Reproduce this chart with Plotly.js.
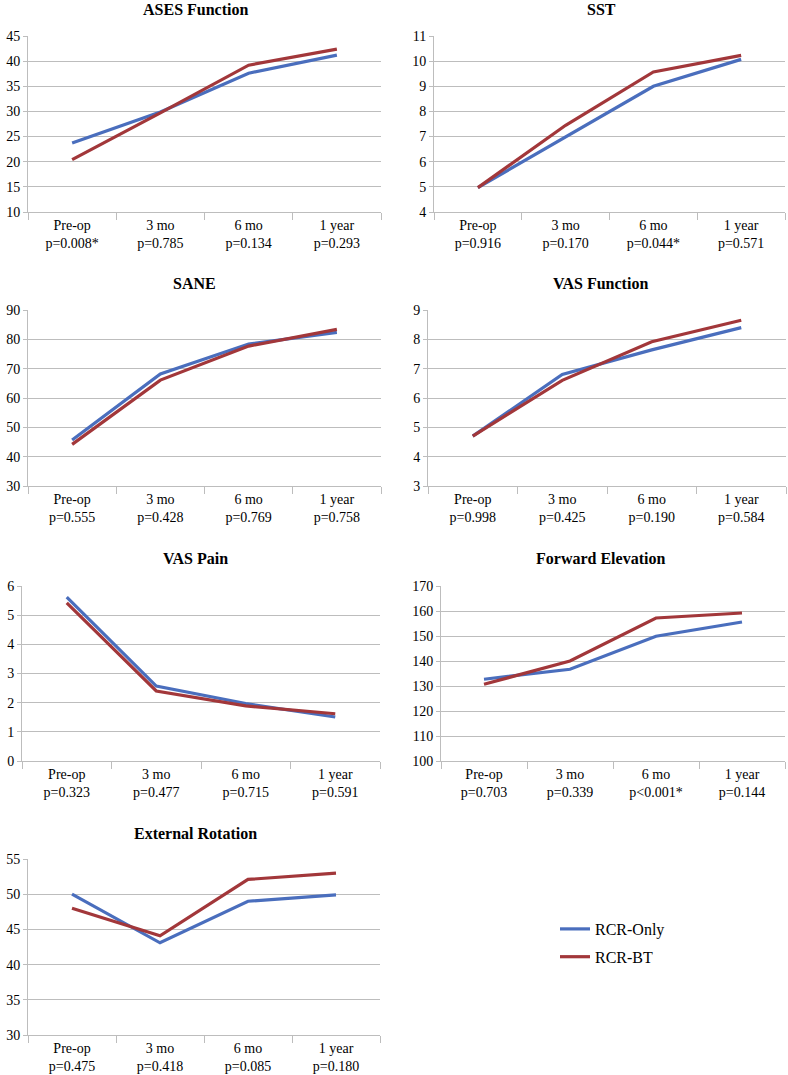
<!DOCTYPE html>
<html>
<head>
<meta charset="utf-8">
<script src="https://cdn.plot.ly/plotly-3.0.1.min.js"></script>
<style>
  body { margin: 0; background: #fff; }
  #chart { width: 788px; height: 1075px; }
</style>
</head>
<body>
<div id="chart"></div>
<script>
// categories and p values under each time point
var timePoints = ['Pre-op', '3 mo', '6 mo', '1 year'];

var titles = ['ASES Function', 'SST', 'SANE', 'VAS Function', 'VAS Pain', 'Forward Elevation', 'External Rotation'];

var pAses = ['p=0.008*', 'p=0.785', 'p=0.134', 'p=0.293'];
var pSst = ['p=0.916', 'p=0.170', 'p=0.044*', 'p=0.571'];
var pSane = ['p=0.555', 'p=0.428', 'p=0.769', 'p=0.758'];
var pVasFunc = ['p=0.998', 'p=0.425', 'p=0.190', 'p=0.584'];
var pVasPain = ['p=0.323', 'p=0.477', 'p=0.715', 'p=0.591'];
var pFe = ['p=0.703', 'p=0.339', 'p<0.001*', 'p=0.144'];
var pEr = ['p=0.475', 'p=0.418', 'p=0.085', 'p=0.180'];

// RCR-Only
var asesOnly = [23.7, 29.9, 37.6, 41.2];
var sstOnly = [4.97, 6.98, 9.0, 10.07];
var saneOnly = [45.7, 68.2, 78.4, 82.4];
var vasFuncOnly = [4.7, 6.8, 7.64, 8.4];
var vasPainOnly = [5.62, 2.57, 1.97, 1.51];
var feOnly = [132.7, 136.7, 149.9, 155.6];
var erOnly = [50.0, 43.1, 49.0, 49.9];

// RCR-BT
var asesBT = [20.4, 29.7, 39.2, 42.4];
var sstBT = [4.97, 7.45, 9.57, 10.23];
var saneBT = [44.2, 66.1, 77.7, 83.4];
var vasFuncBT = [4.7, 6.6, 7.92, 8.65];
var vasPainBT = [5.42, 2.4, 1.89, 1.62];
var feBT = [130.7, 140.0, 157.2, 159.2];
var erBT = [48.0, 44.1, 52.1, 53.0];

var yRanges = [[10, 45], [4, 11], [30, 90], [3, 9], [0, 6], [100, 170], [30, 55]];
var yDticks = [5, 1, 10, 1, 1, 10, 5];

var onlyData = [asesOnly, sstOnly, saneOnly, vasFuncOnly, vasPainOnly, feOnly, erOnly];
var btData = [asesBT, sstBT, saneBT, vasFuncBT, vasPainBT, feBT, erBT];
var pData = [pAses, pSst, pSane, pVasFunc, pVasPain, pFe, pEr];

// plot boxes in pixels: left, right, top, bottom, title x, title y
var boxes = [
    [28, 381, 36, 212, 195, 10],
    [434, 785, 36, 212, 601, 10],
    [28, 381, 310, 486, 194, 283],
    [428, 786, 310, 486, 600, 283],
    [22, 380, 586, 761, 195, 558],
    [441, 785, 586, 761, 600, 558],
    [28, 380, 859, 1035, 195, 833]
];

var W = 788, H = 1075;
var blue = '#4a6ebd';
var red = '#a2373a';
var grid = '#bdbdbd';
var font = 'Liberation Serif';

var data = [];
var layout = {
    width: W,
    height: H,
    margin: {t: 0, b: 0, l: 0, r: 0},
    paper_bgcolor: '#fff',
    plot_bgcolor: '#fff',
    font: {family: font, size: 13, color: '#000'},
    showlegend: true,
    legend: {
        x: 555 / W,
        y: 1 - 912 / H,
        xanchor: 'left',
        yanchor: 'top',
        traceorder: 'grouped',
        tracegroupgap: 4,
        font: {family: font, size: 16, color: '#000'},
        bgcolor: 'rgba(0,0,0,0)'
    },
    annotations: []
};

for (var i = 0; i < 7; i++) {
    var n = i === 0 ? '' : (i + 1);
    var b = boxes[i];
    var labels = timePoints.map(function(t, k) { return t + '<br>' + pData[i][k]; });

    data.push({
        x: labels, y: onlyData[i],
        xaxis: 'x' + n, yaxis: 'y' + n,
        type: 'scatter', mode: 'lines',
        name: 'RCR-Only', legendgroup: 'only',
        showlegend: i === 0,
        line: {color: blue, width: 3.2}
    });
    data.push({
        x: labels, y: btData[i],
        xaxis: 'x' + n, yaxis: 'y' + n,
        type: 'scatter', mode: 'lines',
        name: 'RCR-BT', legendgroup: 'bt',
        showlegend: i === 0,
        line: {color: red, width: 3.2}
    });

    layout['xaxis' + n] = {
        domain: [b[0] / W, b[1] / W],
        anchor: 'y' + n,
        type: 'category',
        range: [-0.5, 3.5],
        tickson: 'boundaries',
        ticks: 'outside',
        ticklen: 7,
        tickcolor: grid,
        showline: true,
        linecolor: grid,
        showgrid: false,
        zeroline: false,
        fixedrange: true,
        tickfont: {family: font, size: 14, color: '#000'}
    };
    layout['yaxis' + n] = {
        domain: [1 - b[3] / H, 1 - b[2] / H],
        anchor: 'x' + n,
        range: yRanges[i],
        dtick: yDticks[i],
        tick0: 0,
        ticks: 'outside',
        ticklen: 4,
        tickcolor: grid,
        showline: true,
        linecolor: grid,
        showgrid: true,
        gridcolor: grid,
        gridwidth: 1,
        zeroline: false,
        fixedrange: true,
        tickfont: {family: font, size: 14, color: '#000'}
    };
    layout.annotations.push({
        text: '<b>' + titles[i] + '</b>',
        xref: 'paper', yref: 'paper',
        x: b[4] / W, y: 1 - b[5] / H,
        xanchor: 'center', yanchor: 'middle',
        showarrow: false,
        font: {family: font, size: 16, color: '#000'}
    });
}

Plotly.newPlot('chart', data, layout, {displayModeBar: false, staticPlot: true});
</script>
</body>
</html>
